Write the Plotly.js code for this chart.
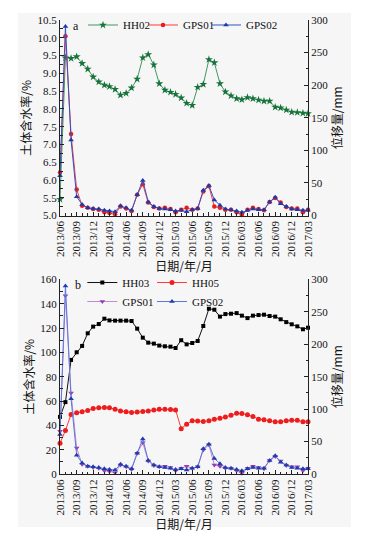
<!DOCTYPE html>
<html><head><meta charset="utf-8">
<script src="https://cdn.plot.ly/plotly-3.0.1.min.js"></script>
<style>html,body{margin:0;padding:0;background:#fff}#chart{width:366px;height:537px}</style>
</head><body><div id="chart"></div>
<script>
const months = ['2013/06','2013/07','2013/08','2013/09','2013/10','2013/11','2013/12',
  '2014/01','2014/02','2014/03','2014/04','2014/05','2014/06','2014/07','2014/08','2014/09','2014/10','2014/11','2014/12',
  '2015/01','2015/02','2015/03','2015/04','2015/05','2015/06','2015/07','2015/08','2015/09','2015/10','2015/11','2015/12',
  '2016/01','2016/02','2016/03','2016/04','2016/05','2016/06','2016/07','2016/08','2016/09','2016/10','2016/11','2016/12',
  '2017/01','2017/02','2017/03'];

// panel a: soil water content (%), left axis
const hh02 = [5.46, 9.44, 9.42, 9.47, 9.28, 9.12, 8.90, 8.76, 8.67, 8.63, 8.55, 8.39, 8.44, 8.59, 8.84, 9.44, 9.53, 9.24, 8.71, 8.53, 8.47, 8.41, 8.31, 8.16, 8.10, 8.61, 8.69, 9.39, 9.30, 8.71, 8.48, 8.37, 8.29, 8.26, 8.32, 8.29, 8.25, 8.22, 8.22, 8.05, 8.03, 7.97, 7.91, 7.90, 7.88, 7.87];
// displacement (mm), right axis
const gps01 = [66, 275, 125, 40, 15, 12, 10, 9, 5, 4, 2, 14, 11, 7, 32, 48, 20, 13, 11, 12, 10, 5, 9, 12, 9, 11, 37, 45, 14, 12, 9, 9, 5, 1, 9, 12, 10, 8, 21, 27, 20, 13, 11, 11, 5, 9];
const gps02 = [61, 290, 116, 29, 17, 12, 11, 10, 8, 7, 6, 15, 12, 8, 32, 54, 21, 14, 11, 10, 9, 7, 8, 6, 9, 11, 39, 46, 24, 16, 10, 9, 7, 5, 8, 10, 9, 9, 21, 28, 18, 14, 10, 9, 8, 8];
// panel b: soil water content (%), left axis
const hh03 = [47.0, 59.1, 93.8, 100.1, 105.3, 115.7, 121.2, 123.3, 127.7, 126.3, 126.1, 126.1, 126.1, 125.8, 119.5, 112.1, 108.0, 107.2, 105.6, 105.0, 104.7, 103.6, 110.0, 106.6, 107.7, 109.4, 121.7, 135.9, 135.1, 129.4, 131.5, 131.8, 132.3, 130.2, 128.2, 130.2, 130.7, 131.0, 129.9, 129.4, 127.2, 124.9, 123.1, 121.4, 119.0, 120.3];
const hh05 = [25.2, 35.8, 49.0, 50.3, 51.1, 52.2, 53.9, 54.4, 54.7, 54.4, 53.3, 51.9, 51.1, 50.6, 50.9, 51.4, 51.9, 52.7, 53.3, 53.3, 53.0, 52.7, 37.2, 41.0, 43.8, 43.5, 43.2, 43.8, 45.1, 45.9, 46.8, 48.4, 50.0, 49.8, 48.7, 47.3, 45.1, 44.6, 43.8, 42.9, 42.9, 43.8, 44.3, 44.3, 42.9, 42.9];

const xDates = months.map(m => m.replace('/', '-') + '-01');
const FONT = '"Liberation Serif", "Times New Roman", "Noto Sans CJK SC", serif';
const CJK = '"Noto Sans CJK SC", "Liberation Serif", serif';
const AX = '#222';

function tr(name, y, xa, ya, lineColor, mColor, symbol, size, legend) {
  return {type:'scatter', mode:'lines+markers', name:name, x:xDates, y:y, xaxis:xa, yaxis:ya,
    line:{color:lineColor, width:1}, marker:{color:mColor, symbol:symbol, size:size, line:{width:0}},
    cliponaxis:false, legend:legend, hoverinfo:'skip'};
}

const data = [
  tr('HH02', hh02, 'x', 'y', '#3f9a62', '#17733a', 'star', 6, 'legend'),
  tr('GPS01', gps01, 'x', 'y2', '#ff3a3a', '#e81c1c', 'circle', 4.5, 'legend4'),
  tr('GPS02', gps02, 'x', 'y2', '#3353c4', '#1c3aa8', 'triangle-up', 5, 'legend5'),
  tr('HH03', hh03, 'x2', 'y3', '#111111', '#000000', 'square', 4, 'legend2'),
  tr('HH05', hh05, 'x2', 'y3', '#ff3a3a', '#ee1c1c', 'circle', 5, 'legend3'),
  tr('GPS01', gps01, 'x2', 'y4', '#c488d4', '#9440b4', 'triangle-down', 5, 'legend2'),
  tr('GPS02', gps02, 'x2', 'y4', '#5a78d8', '#1f3cae', 'triangle-up', 5, 'legend3')
];

function xAxis(anchor) {
  return {type:'date', anchor:anchor, domain:[0,1], range:['2013-06-01','2017-03-01'],
    tick0:'2013-06-01', dtick:'M3', tickformat:'%Y/%m', tickangle:-90,
    ticks:'inside', ticklen:4, tickcolor:AX, showline:true, linecolor:AX, linewidth:1,
    showgrid:false, zeroline:false, tickfont:{family:FONT, size:11, color:'#111'},
    minor:{dtick:'M1', ticks:'inside', ticklen:2.5, tickcolor:AX, showgrid:false},
    title:{text:'日期/年/月', font:{family:CJK, size:12, color:'#111'}, standoff:0}};
}
function yAxis(opts) {
  return Object.assign({ticks:'inside', ticklen:4, tickcolor:AX, showline:true, linecolor:AX, linewidth:1,
    showgrid:false, zeroline:false, tickfont:{family:FONT, size:11, color:'#111'}}, opts);
}
function leg(x, y) {
  return {x:x, xanchor:'left', y:y, yanchor:'top', bgcolor:'rgba(0,0,0,0)',
    borderwidth:0, font:{family:FONT, size:11, color:'#111'}};
}

const layout = {
  width:366, height:537,
  margin:{l:60, r:58, t:19, b:63, pad:0},
  paper_bgcolor:'#ffffff', plot_bgcolor:'rgba(0,0,0,0)',
  font:{family:FONT, size:11, color:'#111'},
  showlegend:true,
  xaxis: xAxis('y'),
  xaxis2: xAxis('y3'),
  yaxis: yAxis({domain:[0.5692,1], anchor:'x', range:[5,10.5], tick0:5, dtick:0.5, tickformat:'.1f',
    minor:{dtick:0.25, ticks:'inside', ticklen:2.5, tickcolor:AX},
    title:{text:'土体含水率/%', font:{family:CJK, size:12, color:'#111'}, standoff:3}}),
  yaxis2: yAxis({overlaying:'y', side:'right', anchor:'x', range:[0,300], tick0:0, dtick:50,
    minor:{dtick:25, ticks:'inside', ticklen:2.5, tickcolor:AX},
    title:{text:'位移量/mm', font:{family:CJK, size:12, color:'#111'}, standoff:0}}),
  yaxis3: yAxis({domain:[0,0.4286], anchor:'x2', range:[0,160], tick0:0, dtick:20,
    minor:{dtick:10, ticks:'inside', ticklen:2.5, tickcolor:AX},
    title:{text:'土体含水率/%', font:{family:CJK, size:12, color:'#111'}, standoff:3}}),
  yaxis4: yAxis({overlaying:'y3', side:'right', anchor:'x2', range:[0,300], tick0:0, dtick:50,
    minor:{dtick:25, ticks:'inside', ticklen:2.5, tickcolor:AX},
    title:{text:'位移量/mm', font:{family:CJK, size:12, color:'#111'}, standoff:0}}),
  legend: leg(0.0927, 1.0187),
  legend4: leg(0.3347, 1.0187),
  legend5: leg(0.5887, 1.0187),
  legend2: leg(0.09, 0.4527),
  legend3: leg(0.371, 0.4527),
  annotations:[
    {text:'a', xref:'paper', yref:'paper', x:0.0625, y:0.9857, xanchor:'center', yanchor:'middle', showarrow:false, font:{family:FONT, size:12, color:'#111'}},
    {text:'b', xref:'paper', yref:'paper', x:0.0726, y:0.4154, xanchor:'center', yanchor:'middle', showarrow:false, font:{family:FONT, size:12, color:'#111'}}
  ],
  shapes:[
    {type:'rect', xref:'paper', yref:'paper', x0:-0.169, x1:1.173, y0:-0.1165, y1:1.0154,
     fillcolor:'#f6f6f6', line:{width:0}, layer:'below'}
  ]
};

Plotly.newPlot('chart', data, layout, {displayModeBar:false, staticPlot:true});
</script></body></html>
